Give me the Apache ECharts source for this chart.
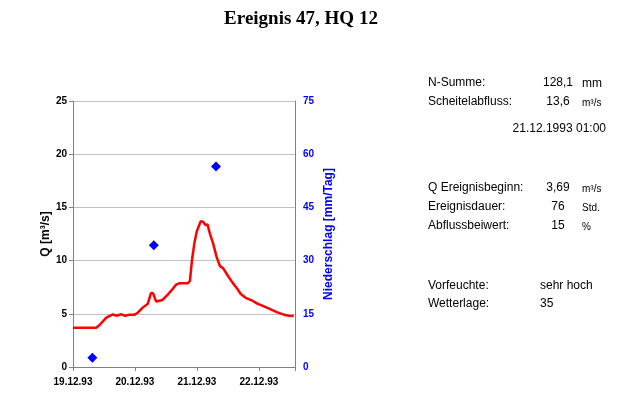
<!DOCTYPE html>
<html><head><meta charset="utf-8">
<script src="https://cdn.jsdelivr.net/npm/echarts@6/dist/echarts.min.js"></script>
<style>html,body{margin:0;padding:0;background:#fff}#c{width:643px;height:413px}</style>
</head><body><div id="c"></div>
<script>
// hours since 19.12.93 00:00
var qHours = [0,9,10.3,12.9,15.4,16.7,18.7,20.3,21.9,23.8,25.1,27,29,30.2,31.1,32.2,33.5,34.7,36.7,38.6,39.9,41.2,44.4,45.3,46.1,47,47.9,48.9,49.5,50.4,51.2,52.1,53,54.3,55.6,56.9,58.2,59.8,61.8,63.7,65,66.9,69.5,71.4,74,76.6,79.2,81.7,83.7,85.5];
var qValues = [3.69,3.69,3.95,4.64,4.95,4.82,4.95,4.82,4.92,4.92,5.1,5.58,5.95,6.95,6.9,6.14,6.23,6.3,6.8,7.33,7.74,7.86,7.86,8.1,10.06,11.6,12.7,13.35,13.7,13.66,13.35,13.4,12.56,11.6,10.37,9.5,9.27,8.65,7.93,7.33,6.86,6.5,6.23,5.95,5.7,5.42,5.14,4.92,4.82,4.79];
var rainHours = [7.5,31.3,55.4];
var rainValues = [2.6,34.3,56.5];
var dayLabels = ['19.12.93','20.12.93','21.12.93','22.12.93'];

var infoRows = [
  {label:'N-Summe:', value:'128,1', unit:'mm', y:83},
  {label:'Scheitelabfluss:', value:'13,6', unit:'m³/s', y:102, small:true},
  {label:'Q Ereignisbeginn:', value:'3,69', unit:'m³/s', y:188, small:true},
  {label:'Ereignisdauer:', value:'76', unit:'Std.', y:207, small:true},
  {label:'Abflussbeiwert:', value:'15', unit:'%', y:226, small:true}
];
var info2 = [
  {label:'Vorfeuchte:', value:'sehr hoch', y:286},
  {label:'Wetterlage:', value:'35', y:304}
];
var peakDate = '21.12.1993 01:00';

var F = 'Arial, "Liberation Sans", sans-serif';
var graphics = [];
infoRows.forEach(function(r){
  graphics.push({type:'text', x:428, y:r.y, style:{text:r.label, font:'12px '+F, fill:'#000', textVerticalAlign:'middle'}});
  graphics.push({type:'text', x:558, y:r.y, style:{text:r.value, font:'12px '+F, fill:'#000', textAlign:'center', textVerticalAlign:'middle'}});
  graphics.push({type:'text', x:582, y:r.y+1, style:{text:r.unit, font:(r.small?'10px ':'12px ')+F, fill:'#000', textVerticalAlign:'middle'}});
});
info2.forEach(function(r){
  graphics.push({type:'text', x:428, y:r.y, style:{text:r.label, font:'12px '+F, fill:'#000', textVerticalAlign:'middle'}});
  graphics.push({type:'text', x:540, y:r.y, style:{text:r.value, font:'12px '+F, fill:'#000', textVerticalAlign:'middle'}});
});
graphics.push({type:'text', x:606, y:129, style:{text:peakDate, font:'12px '+F, fill:'#000', textAlign:'right', textVerticalAlign:'middle'}});

var chart = echarts.init(document.getElementById('c'), null, {renderer:'canvas'});
chart.setOption({
  animation:false,
  backgroundColor:'#fff',
  title:{text:'Ereignis 47, HQ 12', left:296, top:5, textAlign:'center',
    textStyle:{fontFamily:'"Liberation Serif", "Times New Roman", serif', fontWeight:'bold', fontSize:19, color:'#000'}},
  grid:{left:73, right:348, top:101, bottom:46, containLabel:false},
  xAxis:{type:'value', min:0, max:86, interval:24,
    axisLine:{show:true, lineStyle:{color:'#808080', width:1}},
    axisTick:{show:true, length:4, lineStyle:{color:'#808080'}},
    splitLine:{show:false},
    axisLabel:{margin:10, fontSize:10, fontWeight:'bold', color:'#000', fontFamily:F,
      formatter:function(v){ return (v % 24 === 0) ? (dayLabels[v/24]||'') : ''; }}
  },
  yAxis:[
    {type:'value', min:0, max:25, interval:5, position:'left',
      name:'Q [m³/s]', nameLocation:'middle', nameGap:20, nameRotate:90,
      nameTextStyle:{fontSize:12, fontWeight:'bold', color:'#000', fontFamily:F},
      axisLine:{show:true, lineStyle:{color:'#808080'}},
      axisTick:{show:true, length:4, lineStyle:{color:'#808080'}},
      splitLine:{show:true, lineStyle:{color:'#c0c0c0', width:1}},
      axisLabel:{margin:6, fontSize:10, fontWeight:'bold', color:'#000', fontFamily:F}
    },
    {type:'value', min:0, max:75, interval:15, position:'right',
      name:'Niederschlag [mm/Tag]', nameLocation:'middle', nameGap:28, nameRotate:90,
      nameTextStyle:{fontSize:12, fontWeight:'bold', color:'#0000ff', fontFamily:F},
      axisLine:{show:true, lineStyle:{color:'#808080'}},
      axisTick:{show:false},
      splitLine:{show:false},
      axisLabel:{margin:8, fontSize:10, fontWeight:'bold', color:'#0000ff', fontFamily:F}
    }
  ],
  series:[
    {type:'line', yAxisIndex:0, showSymbol:false, symbol:'none',
      data:qHours.map(function(h,i){return [h,qValues[i]];}),
      lineStyle:{color:'#ff0000', width:2.5}, z:3},
    {type:'scatter', yAxisIndex:1, symbol:'diamond', symbolSize:10,
      data:rainHours.map(function(h,i){return [h,rainValues[i]];}),
      itemStyle:{color:'#0000ff', opacity:1}, z:4}
  ],
  graphic:graphics
});
</script></body></html>
